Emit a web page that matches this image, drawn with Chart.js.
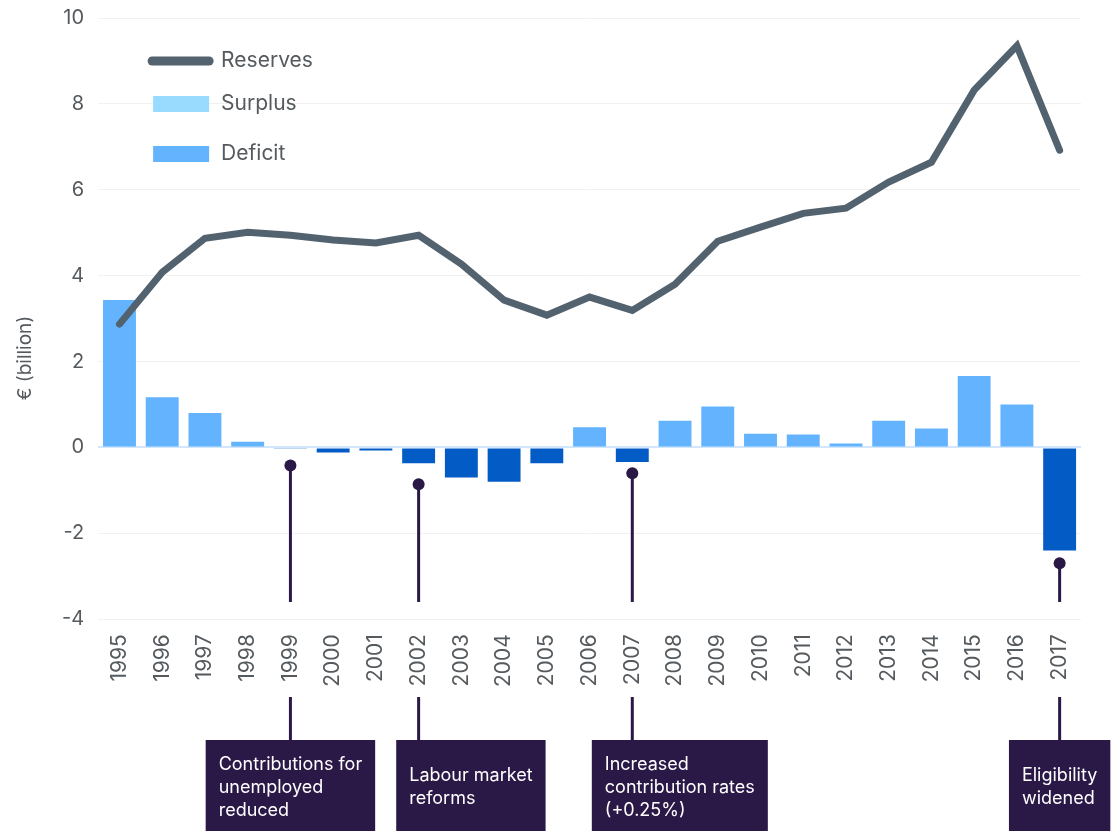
<!DOCTYPE html>
<html>
<head>
<meta charset="utf-8">
<script src="https://cdn.jsdelivr.net/npm/chart.js@4"></script>
<style>
  html, body { margin: 0; padding: 0; background: #fff; }
  #wrap { width: 1113px; height: 831px; position: relative; }
</style>
</head>
<body>
<div id="wrap"><canvas id="chart"></canvas></div>
<script>
// data
const years = ["1995", "1996", "1997", "1998", "1999", "2000", "2001", "2002", "2003", "2004", "2005", "2006",
  "2007", "2008", "2009", "2010", "2011", "2012", "2013", "2014", "2015", "2016", "2017"];
const balance = [3.43, 1.17, 0.80, 0.13, -0.03, -0.12, -0.07, -0.37, -0.70, -0.80, -0.37, 0.47,
  -0.34, 0.62, 0.95, 0.32, 0.30, 0.09, 0.62, 0.44, 1.66, 1.00, -2.40];
const reserves = [2.87, 4.08, 4.87, 5.01, 4.94, 4.83, 4.76, 4.94, 4.27, 3.43, 3.08, 3.50,
  3.19, 3.80, 4.80, 5.13, 5.45, 5.57, 6.18, 6.64, 8.32, 9.35, 6.92];
const yTicks = [-4, -2, 0, 2, 4, 6, 8, 10];
const legendLabels = ["Reserves", "Surplus", "Deficit"];

// policy notes
const noteYears = ["1999", "2002", "2007", "2017"];
const noteDotValues = [-0.42, -0.86, -0.6, -2.7];
const noteTexts = [
  ["Contributions for", "unemployed", "reduced"],
  ["Labour market", "reforms"],
  ["Increased", "contribution rates", "(+0.25%)"],
  ["Eligibility", "widened"]
];
// where the stem sits across each box (fraction of box width)
const noteAnchor = [0.5, 0.15, 0.23, 0.5];

const FONT = "Inter, 'DejaVu Sans', sans-serif";
const TEXT = "#555a5e";
const LINE = "#53626f";
const POS = "#63b3ff";
const NEG = "#035bc6";
const NOTE = "#2a1846";

const extras = {
  id: "extras",
  afterDraw(chart) {
    const ctx = chart.ctx;
    const x = chart.scales.x;
    const y = chart.scales.y;
    const area = chart.chartArea;
    ctx.save();

    // y axis title, centred over plot + x labels
    ctx.fillStyle = TEXT;
    ctx.font = "19px " + FONT;
    ctx.textAlign = "center";
    ctx.textBaseline = "middle";
    ctx.translate(25, (area.top + x.bottom) / 2 + 2);
    ctx.rotate(-Math.PI / 2);
    ctx.fillText("€ (billion)", 0, 0);
    ctx.setTransform(1, 0, 0, 1, 0, 0);

    // legend
    const lx = area.left + 54;
    ctx.font = "21px " + FONT;
    ctx.textAlign = "left";
    ctx.lineCap = "round";
    ctx.strokeStyle = LINE;
    ctx.lineWidth = 9;
    ctx.beginPath();
    ctx.moveTo(lx, area.top + 43);
    ctx.lineTo(lx + 57, area.top + 43);
    ctx.stroke();
    ctx.fillStyle = TEXT;
    ctx.fillText(legendLabels[0], lx + 69, area.top + 43);
    ctx.fillStyle = "#99daff";
    ctx.fillRect(lx + 1, area.top + 78, 56, 16);
    ctx.fillStyle = TEXT;
    ctx.fillText(legendLabels[1], lx + 69, area.top + 86);
    ctx.fillStyle = POS;
    ctx.fillRect(lx + 1, area.top + 128, 56, 16);
    ctx.fillStyle = TEXT;
    ctx.fillText(legendLabels[2], lx + 69, area.top + 136);

    // notes
    noteYears.forEach((yr, i) => {
      const px = x.getPixelForValue(years.indexOf(yr));
      const dotY = y.getPixelForValue(noteDotValues[i]);
      const endY = y.getPixelForValue(-3.6);
      ctx.strokeStyle = NOTE;
      ctx.fillStyle = NOTE;
      ctx.lineWidth = 3;
      ctx.lineCap = "butt";
      ctx.beginPath();
      ctx.moveTo(px, dotY);
      ctx.lineTo(px, endY);
      ctx.stroke();
      ctx.beginPath();
      ctx.arc(px, dotY, 6, 0, Math.PI * 2);
      ctx.fill();

      const boxTop = 740;
      ctx.beginPath();
      ctx.moveTo(px, x.bottom + 3);
      ctx.lineTo(px, boxTop);
      ctx.stroke();

      ctx.font = "18px " + FONT;
      const lines = noteTexts[i];
      const w = Math.max(...lines.map(t => ctx.measureText(t).width)) + 26;
      const h = 95;
      const left = px - w * noteAnchor[i];
      ctx.fillRect(left, boxTop, w, h);
      ctx.fillStyle = "#ffffff";
      ctx.textAlign = "left";
      ctx.textBaseline = "middle";
      const lh = 23;
      const startY = boxTop + h / 2 - (lines.length - 1) * lh / 2;
      lines.forEach((t, k) => ctx.fillText(t, left + 13, startY + k * lh));
    });
    ctx.restore();
  }
};

new Chart(document.getElementById("chart"), {
  type: "bar",
  data: {
    labels: years,
    datasets: [
      {
        type: "line",
        label: legendLabels[0],
        data: reserves,
        borderColor: LINE,
        borderWidth: 7,
        borderCapStyle: "round",
        borderJoinStyle: "miter",
        pointRadius: 0,
        tension: 0,
        order: 1
      },
      {
        label: "Balance",
        data: balance,
        backgroundColor: balance.map(v => v >= 0 ? POS : NEG),
        borderWidth: 0,
        barPercentage: 0.77,
        categoryPercentage: 1,
        order: 2
      }
    ]
  },
  options: {
    responsive: true,
    maintainAspectRatio: false,
    animation: false,
    layout: { padding: { left: 58, right: 32, top: 18, bottom: 137 } },
    plugins: {
      legend: { display: false },
      tooltip: { enabled: false }
    },
    scales: {
      x: {
        grid: { display: false },
        border: { display: false },
        ticks: {
          minRotation: 90,
          maxRotation: 90,
          padding: 7,
          color: TEXT,
          font: { family: FONT, size: 21 }
        }
      },
      y: {
        min: yTicks[0],
        max: yTicks[yTicks.length - 1],
        afterBuildTicks: axis => { axis.ticks = yTicks.map(v => ({ value: v })); },
        border: { display: false },
        grid: {
          drawTicks: true,
          tickLength: 10,
          tickColor: "rgba(0,0,0,0)",
          color: c => c.tick && c.tick.value === 0 ? "#d2e6fd" : "#f1f1f1",
          lineWidth: c => c.tick && c.tick.value === 0 ? 2 : 1
        },
        ticks: {
          padding: 4,
          color: TEXT,
          font: { family: FONT, size: 20 }
        }
      }
    }
  },
  plugins: [extras]
});
</script>
</body>
</html>
